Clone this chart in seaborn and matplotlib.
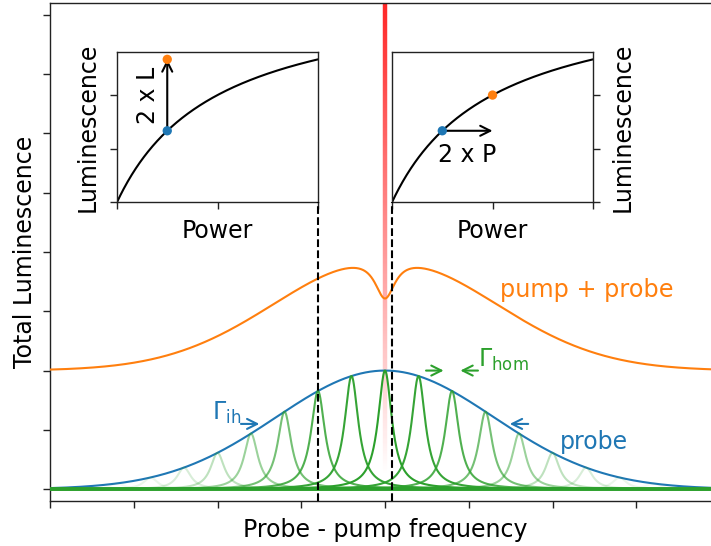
import numpy as np
import pandas as pd
import matplotlib
matplotlib.use("Agg")
import matplotlib.pyplot as plt
import seaborn as sns
from matplotlib.collections import LineCollection

sns.set_style("ticks")
plt.rcParams.update({
    "font.family": ["DejaVu Sans"],
    "font.size": 17,
    "axes.edgecolor": "#222222",
    "axes.linewidth": 1.0,
    "axes.labelcolor": "black",
    "text.color": "black",
    "xtick.color": "#222222",
    "ytick.color": "#222222",
    "xtick.major.size": 4.9,
    "ytick.major.size": 4.9,
    "xtick.major.width": 1.0,
    "ytick.major.width": 1.0,
    "mathtext.default": "regular",
})

BLUE, ORANGE, GREEN = "#1f77b4", "#ff7f0e", "#2ca02c"

# --- spectral model -------------------------------------------------------
probe_sigma = 1.3            # inhomogeneous (Gaussian) width of the probe band
hom_gamma = 0.1              # homogeneous (Lorentzian) half width of one site
site_centers = [-3.2, -2.8, -2.4, -2.0, -1.6, -1.2, -0.8, -0.4, 0.0,
                0.4, 0.8, 1.2, 1.6, 2.0, 2.4, 2.8, 3.2]
pump_probe_offset = 1.0      # vertical offset of the pump + probe trace
pump_probe_amp = 0.95
hole_depth = 0.36            # spectral hole burnt by the pump
hole_gamma = 0.15

# --- saturation insets ----------------------------------------------------
sat_max = 4.0
sat_power = 1.0
power_before = 0.5
power_after = 1.0            # doubled pump power (right inset)

# --- main axis ticks --------------------------------------------------------
x_ticks = [-4, -3, -2, -1, 0, 1, 2, 3, 4]
y_ticks = [0.0, 0.5, 1.0, 1.5, 2.0, 2.5, 3.0, 3.5, 4.0]

freq = np.linspace(-4, 4, 2001)


def gauss(x):
    return np.exp(-np.asarray(x) ** 2 / (2 * probe_sigma ** 2))


def lorentz(x, c, g):
    return 1.0 / (1.0 + ((np.asarray(x) - c) / g) ** 2)


def saturation(p):
    p = np.asarray(p, dtype=float)
    return sat_max * p / (p + sat_power)


probe = gauss(freq)
pump_probe = pump_probe_offset + pump_probe_amp * probe * (1 - hole_depth * lorentz(freq, 0.0, hole_gamma))

fig = plt.figure(figsize=(7.11, 5.46), dpi=100)
ax = fig.add_axes([50 / 711, 45 / 546, 670 / 711, 498 / 546])
ax.set_xlim(-4, 4)
ax.set_ylim(-0.1, 4.1)
ax.set_xticks(x_ticks)
ax.set_yticks(y_ticks)
ax.set_xticklabels([])
ax.set_yticklabels([])
ax.spines["right"].set_visible(False)

# pump line: red, fading towards the baseline
ys = np.linspace(-0.1, 4.1, 300)
segs = [[(0, ys[i]), (0, ys[i + 1])] for i in range(len(ys) - 1)]
alphas = np.clip((ys[:-1] - 0.12) / 4.0 * 0.9, 0, 0.9)
cols = [(1.0, 0.05, 0.05, a) for a in alphas]
ax.add_collection(LineCollection(segs, colors=cols, linewidths=3.2, zorder=1))

# probe (inhomogeneous band) and pump + probe
sns.lineplot(x=freq, y=probe, color=BLUE, lw=1.5, ax=ax, zorder=3)
sns.lineplot(x=freq, y=pump_probe, color=ORANGE, lw=1.5, ax=ax, zorder=3)

# homogeneous sub-ensembles
for c in site_centers:
    amp = float(gauss(c))
    sns.lineplot(x=freq, y=amp * lorentz(freq, c, hom_gamma), color=GREEN,
                 lw=1.5, alpha=amp, ax=ax, zorder=4)
ax.axhline(0, color=GREEN, lw=2.8, zorder=4)

# labels in the main panel
ax.text(1.37, 1.68, "pump + probe", color=ORANGE, fontsize=17.3, va="center", ha="left")
ax.text(2.09, 0.40, "probe", color=BLUE, fontsize=17, va="center", ha="left")
ax.text(1.11, 1.09, r"$\Gamma_{\mathrm{hom}}$", color=GREEN, fontsize=17, va="center", ha="left")
ax.text(-2.06, 0.64, r"$\Gamma_{\mathrm{ih}}$", color=BLUE, fontsize=17, va="center", ha="left")

arrow_kw = dict(arrowstyle="->", lw=1.5, mutation_scale=18, shrinkA=0, shrinkB=0)
ax.annotate("", xy=(0.70, 1.0), xytext=(0.49, 1.0), arrowprops=dict(color=GREEN, **arrow_kw))
ax.annotate("", xy=(0.90, 1.0), xytext=(1.11, 1.0), arrowprops=dict(color=GREEN, **arrow_kw))
ax.annotate("", xy=(-1.50, 0.55), xytext=(-1.72, 0.55), arrowprops=dict(color=BLUE, **arrow_kw))
ax.annotate("", xy=(1.49, 0.55), xytext=(1.71, 0.55), arrowprops=dict(color=BLUE, **arrow_kw))

ax.set_xlabel("Probe - pump frequency", fontsize=17)
ax.set_ylabel("Total Luminescence", fontsize=17, labelpad=1)

# --- saturation insets ------------------------------------------------------
inset_y0, inset_h, inset_w = 2.42, 1.265, 2.4
left_x0, right_x0 = -3.2, 0.084
power = np.linspace(0, 2, 300)

ax_l = ax.inset_axes([left_x0, inset_y0, inset_w, inset_h], transform=ax.transData)
ax_r = ax.inset_axes([right_x0, inset_y0, inset_w, inset_h], transform=ax.transData)
for a in (ax_l, ax_r):
    sns.lineplot(x=power, y=saturation(power), color="black", lw=1.5, ax=a)
    a.set_xlim(0, 2)
    a.set_ylim(0, 2.8)
    a.set_xticks([0, 1, 2])
    a.set_yticks([0, 1, 2])
    a.set_xticklabels([])
    a.set_yticklabels([])
    a.set_xlabel("Power", fontsize=17)
    a.set_ylabel("Luminescence", fontsize=17)

# left inset: doubled luminescence
L0 = float(saturation(power_before))
ax_l.annotate("", xy=(power_before, 2 * L0), xytext=(power_before, L0),
              arrowprops=dict(color="black", **arrow_kw))
sns.scatterplot(x=[power_before], y=[L0], color=BLUE, s=45, edgecolor="none", ax=ax_l, zorder=5)
sns.scatterplot(x=[power_before], y=[2 * L0], color=ORANGE, s=45, edgecolor="none", ax=ax_l, zorder=5)
ax_l.text(0.31, 2.0, "2 x L", rotation=90, fontsize=17, ha="center", va="center")

# right inset: doubled power
L1 = float(saturation(power_after))
ax_r.annotate("", xy=(power_after, L0), xytext=(power_before, L0),
              arrowprops=dict(color="black", **arrow_kw))
sns.scatterplot(x=[power_before], y=[L0], color=BLUE, s=45, edgecolor="none", ax=ax_r, zorder=5)
sns.scatterplot(x=[power_after], y=[L1], color=ORANGE, s=45, edgecolor="none", ax=ax_r, zorder=5)
ax_r.text(0.75, 0.88, "2 x P", fontsize=17, ha="center", va="center")
ax_r.yaxis.tick_right()
ax_r.yaxis.set_label_position("right")

# dashed guides from the insets down to the frequency axis
for xg in (left_x0 + inset_w, right_x0):
    ax.plot([xg, xg], [-0.1, inset_y0], color="black", ls="--", lw=1.5, zorder=6)

fig.savefig("out.png", dpi=100)
